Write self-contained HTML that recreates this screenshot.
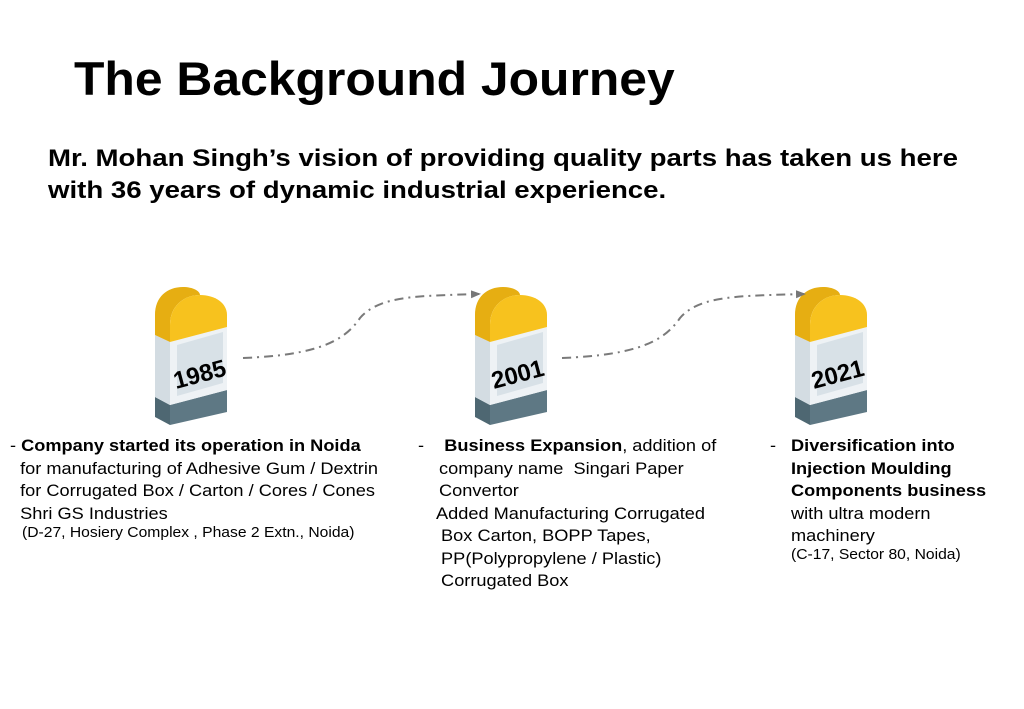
<!DOCTYPE html>
<html><head><meta charset="utf-8"><style>
body{margin:0;width:1024px;height:709px;background:#fff;position:relative;overflow:hidden;font-family:"Liberation Sans",sans-serif;color:#000}
.a{position:absolute;white-space:nowrap;transform-origin:0 0}
.t{font-size:17px;line-height:22.5px;transform:scaleX(1.07)}
.s{font-size:14.5px;transform:scaleX(1.08)}
b{font-weight:bold}
</style></head><body>
<div class="a" style="left:74px;top:51px;font-size:47px;font-weight:bold;line-height:56px;transform:scaleX(1.06)">The Background Journey</div>
<div class="a" style="left:48px;top:143px;font-size:24px;font-weight:bold;line-height:32px;transform:scaleX(1.15)">Mr. Mohan Singh’s vision of providing quality parts has taken us here<br>with 36 years of dynamic industrial experience.</div>

<svg class="a" style="left:0;top:0" width="1024" height="709">
<defs>
<g id="m">
<path d="M0,110 L15,118 L15,138 L0,130Z" fill="#4e6772"/>
<path d="M15,118 L72,103 L72,125 L15,138Z" fill="#5e7884"/>
<path d="M0,48 L15,55 L15,118 L0,110Z" fill="#d3dce2"/>
<path d="M15,55 L72,40 L72,103 L15,118Z" fill="#eef2f5"/>
<path d="M22,58 L68,45 L68,96 L22,109Z" fill="#d8e1e7"/>
<path d="M0,48 L0,28 C0,10 12,0 28,0 C38,0 45,4 45,8 C30,8 15,18 15,38 L15,55Z" fill="#e6ae12"/>
<path d="M15,55 L15,38 C15,18 30,8 45,8 C60,8 72,16 72,28 L72,40Z" fill="#f7c21e"/>
</g>
<marker id="ar" markerUnits="userSpaceOnUse" markerWidth="10" markerHeight="10" refX="8" refY="5" orient="auto"><path d="M0,1 L10,5 L0,9Z" fill="#777"/></marker>
</defs>
<use href="#m" x="155" y="287"/>
<use href="#m" x="475" y="287"/>
<use href="#m" x="795" y="287"/>
<g font-weight="bold" font-size="24" fill="#000">
<text x="176" y="389" transform="rotate(-15 176 389)">1985</text>
<text x="494" y="389" transform="rotate(-15 494 389)">2001</text>
<text x="814" y="389" transform="rotate(-15 814 389)">2021</text>
</g>
<g fill="none" stroke="#7a7a7a" stroke-width="2" stroke-dasharray="9,5,2,5">
<path d="M243,358 C320,355 345,340 360,318 C380,295 420,296 479,294" marker-end="url(#ar)"/>
<path d="M562,358 C640,355 665,340 680,318 C700,295 740,296 804,294" marker-end="url(#ar)"/>
</g>
</svg>

<div class="a t" style="left:10px;top:435px">- <b>Company started its operation in Noida</b><br>&nbsp;&nbsp;for manufacturing of Adhesive Gum / Dextrin<br>&nbsp;&nbsp;for Corrugated Box / Carton / Cores / Cones<br>&nbsp;&nbsp;Shri GS Industries</div>
<div class="a s" style="left:22px;top:525px">(D-27, Hosiery Complex , Phase 2 Extn., Noida)</div>

<div class="a t" style="left:418px;top:435px">-&nbsp;&nbsp;&nbsp;&nbsp;<b>Business Expansion</b>, addition of</div>
<div class="a t" style="left:439px;top:457.5px">company name&nbsp; Singari Paper<br>Convertor</div>
<div class="a t" style="left:436px;top:502.5px">Added Manufacturing Corrugated<br>&nbsp;Box Carton, BOPP Tapes,<br>&nbsp;PP(Polypropylene / Plastic)<br>&nbsp;Corrugated Box</div>

<div class="a t" style="left:770px;top:435px">-</div>
<div class="a t" style="left:791px;top:435px"><b>Diversification into<br>Injection Moulding<br>Components business</b><br>with ultra modern<br>machinery</div>
<div class="a s" style="left:791px;top:547px">(C-17, Sector 80, Noida)</div>
</body></html>
